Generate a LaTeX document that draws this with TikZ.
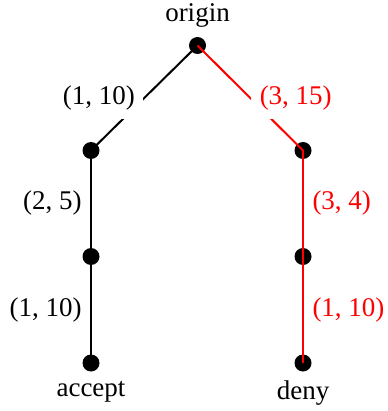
\documentclass[tikz,border=0pt]{standalone}
\usepackage{fontspec}
\setmainfont{Liberation Serif}
\begin{document}
\begin{tikzpicture}[x=1pt,y=-1pt,
  dot/.style={circle,fill=black,inner sep=0pt,minimum size=17pt},
  endlbl/.style={inner sep=9pt,font=\fontsize{27}{32}\selectfont},
  elbl/.style={inner sep=8.5pt,font=\fontsize{27}{32}\selectfont},
  wlbl/.style={elbl,fill=white},
  blk/.style={draw=black,line width=2pt},
  redl/.style={draw=red,line width=2pt,text=red}]
\useasboundingbox (0,0) rectangle (387,411);
\node[dot] (o) at (197.5,45.5) {};
\node[dot] (l1) at (91,150.5) {};
\node[dot] (l2) at (91,256.5) {};
\node[dot] (l3) at (91,363) {};
\node[dot] (r1) at (303,150.5) {};
\node[dot] (r2) at (303,256.5) {};
\node[dot] (r3) at (303,363) {};
\node[endlbl,anchor=south] (ot) at (o.north) {origin};
\node[endlbl,anchor=north] (at) at (l3.south) {accept};
\node[endlbl,anchor=north] (dt) at (r3.south) {deny};
\draw[blk] (o.center) -- node[wlbl,left] (e1) {(1, 10)} (l1.center);
\draw[blk] (l1.center) -- node[elbl,left] (e2) {(2, 5)} (l2.center);
\draw[blk] (l2.center) -- node[elbl,left] (e3) {(1, 10)} (l3.center);
\draw[redl] (o.center) -- node[wlbl,right] (e4) {(3, 15)} (r1.center);
\draw[redl] (r1.center) -- node[elbl,right] (e5) {(3, 4)} (r2.center);
\draw[redl] (r2.center) -- node[elbl,right] (e6) {(1, 10)} (r3.center);
\end{tikzpicture}
\end{document}
